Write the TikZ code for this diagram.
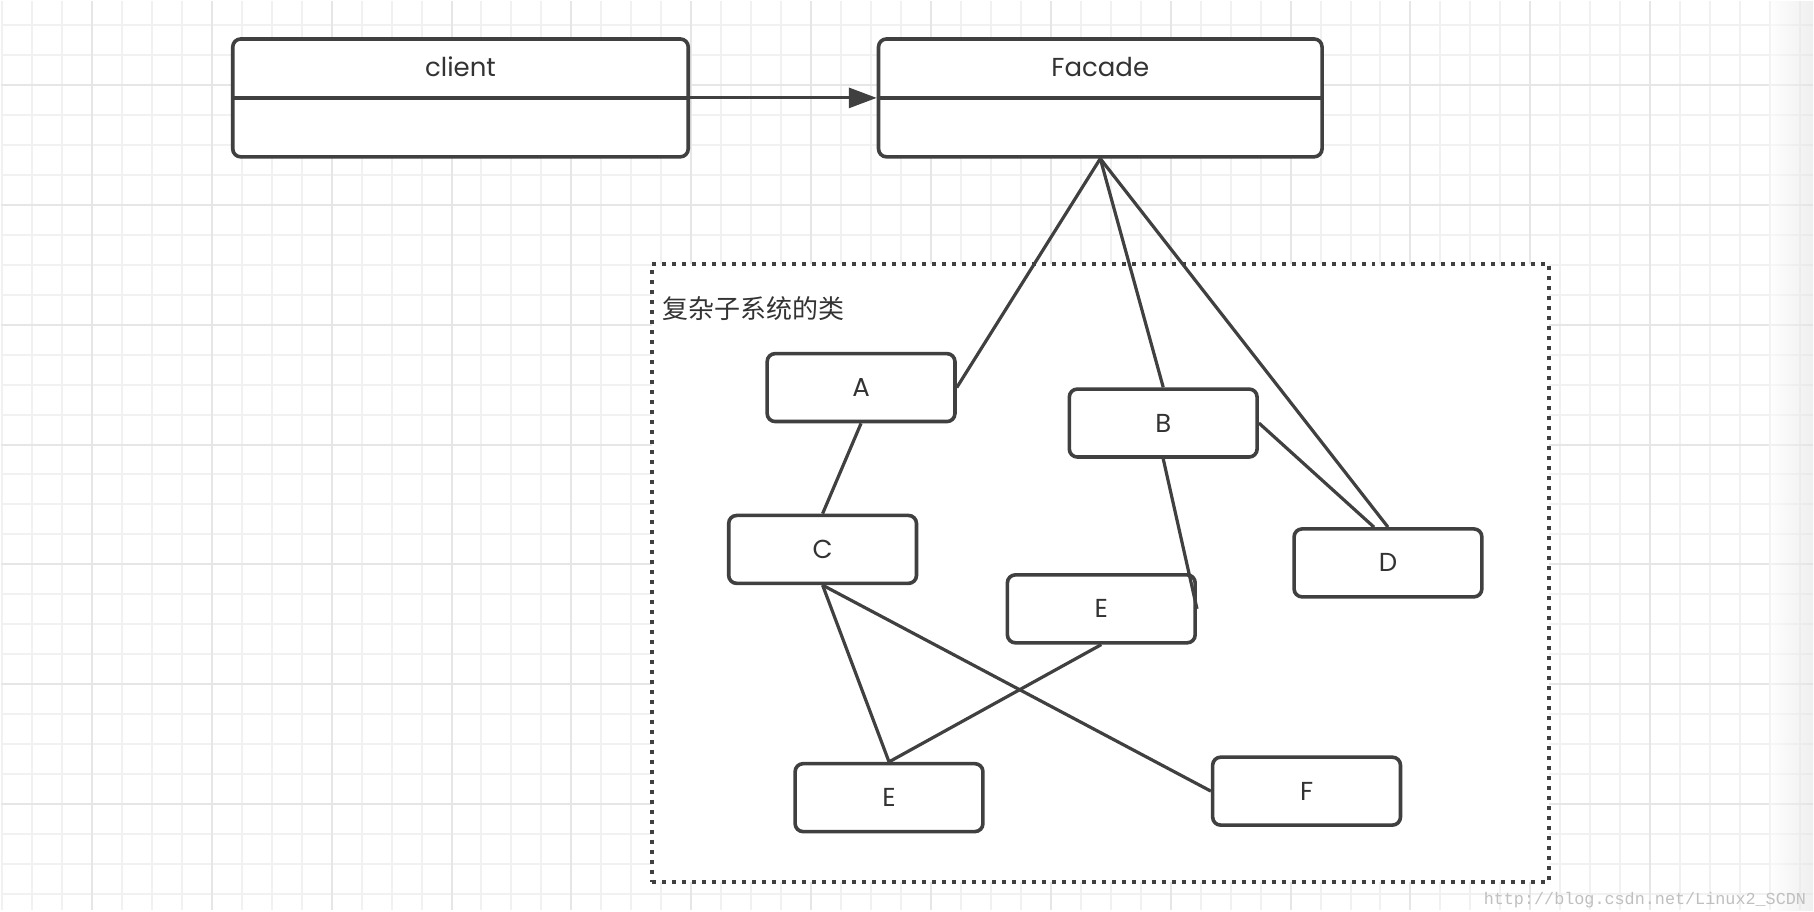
\documentclass[tikz,border=0pt]{standalone}
\usepackage{fontspec}
\setmainfont{Poppins}
\newfontfamily\cjkfont{Noto Sans CJK SC}
\newfontfamily\wmfont{Liberation Mono}
\usepackage{xcolor}
\usepackage{tikz}
\usetikzlibrary{arrows.meta,positioning,calc}

\definecolor{linec}{HTML}{404040}
\definecolor{textc}{HTML}{333333}
\definecolor{gridminor}{HTML}{F1F1F1}
\definecolor{gridmajor}{HTML}{E6E6E6}

\begin{document}
\begin{tikzpicture}[
    x=0.5pt, y=-0.5pt,
    cls/.style={rectangle, draw=linec, fill=white, line width=1.8pt, rounded corners=4pt, minimum width=228pt, minimum height=59pt, inner sep=0pt},
    box/.style={rectangle, draw=linec, fill=white, line width=1.8pt, rounded corners=4pt, minimum width=94pt, minimum height=34pt, inner sep=0pt, font=\fontsize{13}{15}\selectfont, text=textc},
    clsname/.style={inner sep=0pt, font=\fontsize{13}{15}\selectfont, text=textc},
    link/.style={draw=linec, line width=1.6pt},
    arrow/.style={-{Triangle[length=14pt,width=10pt]}, draw=linec, line width=1.6pt}
]

% Grid
\fill[white] (0,0) rectangle (1814,910);
\foreach \gx in {1,31,...,1801}
    \draw[gridminor, line width=1pt] (\gx,0) -- (\gx,910);
\foreach \gy in {24,54,...,894}
    \draw[gridminor, line width=1pt] (0,\gy) -- (1814,\gy);
\foreach \gx in {91,211,...,1771}
    \draw[gridmajor, line width=1pt] (\gx,0) -- (\gx,910);
\foreach \gy in {84,204,...,804}
    \draw[gridmajor, line width=1pt] (0,\gy) -- (1814,\gy);
\shade[left color=white, right color=black!12, opacity=0.5] (1770,0) rectangle (1814,910);
\useasboundingbox (0,0) rectangle (1814,910);

% Client and facade
\node[cls] (client) at (460,97) {};
\node[clsname] (clientname) at (460,66) {client};
\draw[link, line width=1.8pt] (client.west) -- (client.east);

\node[cls, minimum width=222pt] (facade) at (1100.5,97) {};
\node[clsname] (facadename) at (1100.5,66) {Facade};
\draw[link, line width=1.8pt] (facade.west) -- (facade.east);

% Subsystem
\node[rectangle, draw=linec, fill=white, line width=2pt, dash pattern=on 2pt off 3pt, minimum width=449pt, minimum height=309pt] (subsys) at (1101,572.5) {};
\node[clsname, anchor=west, font=\cjkfont\fontsize{13}{15}\selectfont] (subsysname) at (662,308) {复杂子系统的类};

\node[box] (A) at (861,387) {A};
\node[box] (B) at (1163.5,422.5) {B};
\node[box] (C) at (822.5,549) {C};
\node[box] (D) at (1388.5,562.5) {D};
\node[box] (E1) at (1101.5,608.5) {E};
\node[box] (E2) at (889,797.5) {E};
\node[box] (F) at (1307,791) {F};

% Arrows
\draw[arrow] (client.east) -- (facade.west);
\draw[link] (facade.south) -- (A.east);
\draw[link] (facade.south) -- (B.north);
\draw[link] (facade.south) -- (D.north);
\draw[link] (B.east) -- ([xshift=-7pt]D.north);
\draw[link] (B.south) -- (E1.east);
\draw[link] (A.south) -- (C.north);
\draw[link] (C.south) -- (E2.north);
\draw[link] (C.south) -- (F.west);
\draw[link] (E1.south) -- (E2.north);

% Watermark
\node[anchor=base west, inner sep=0pt, text=black!25, font=\wmfont\fontsize{8.4}{10}\selectfont] (watermark) at (1484,904) {http://blog.csdn.net/Linux2\_SCDN};

\end{tikzpicture}
\end{document}
